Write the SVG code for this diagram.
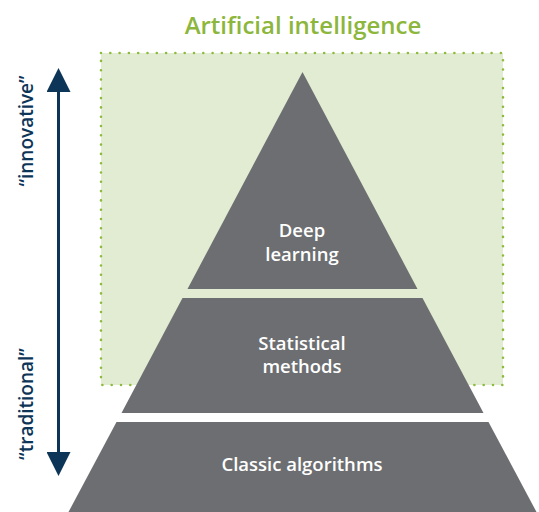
<svg xmlns="http://www.w3.org/2000/svg" width="539" height="512" viewBox="0 0 539 512">
<defs>
<style>
.lbl{font-family:"Open Sans","Noto Sans",sans-serif;font-weight:600;font-size:18.5px;fill:#ffffff;text-anchor:middle}
.tier{fill:#6d6e71}
.side{font-family:"Open Sans","Noto Sans",sans-serif;font-weight:600;font-size:19px;fill:#0d3557;text-anchor:middle}
</style>
<marker id="ah" markerWidth="8.5" markerHeight="8" refX="0" refY="4" orient="auto" markerUnits="strokeWidth">
<path d="M0,0 L8,4 L0,8 Z" fill="#0d3557"/>
</marker>
</defs>
<rect width="539" height="512" fill="#ffffff"/>
<g id="ai-region">
<rect x="101" y="53" width="402" height="332" fill="#e2ecd3" stroke="#8dbb3c" stroke-width="2.6" stroke-dasharray="0 9.3" stroke-linecap="round"/>
<text x="303" y="34" font-family="Open Sans, Noto Sans, sans-serif" font-weight="600" font-size="24" fill="#8cb63c" text-anchor="middle">Artificial intelligence</text>
</g>
<g id="deep-learning">
<polygon class="tier" points="302.5,72 417.5,289 187.5,289"/>
<text class="lbl" x="302" y="237">Deep</text>
<text class="lbl" x="302" y="261">learning</text>
</g>
<g id="statistical-methods">
<polygon class="tier" points="182.5,298 422.5,298 483.5,413 121.5,413"/>
<text class="lbl" x="302" y="350">Statistical</text>
<text class="lbl" x="302" y="373">methods</text>
</g>
<g id="classic-algorithms">
<polygon class="tier" points="116.5,422 488.5,422 536.5,512 68.5,512"/>
<text class="lbl" x="302" y="471">Classic algorithms</text>
</g>
<g id="connectors">
<line x1="58.5" y1="270" x2="58.5" y2="92" stroke="#0d3557" stroke-width="3" marker-end="url(#ah)"/>
<line x1="58.5" y1="270" x2="58.5" y2="452" stroke="#0d3557" stroke-width="3" marker-end="url(#ah)"/>
</g>
<g id="labels">
<text class="side" transform="translate(33,131) rotate(-90)">“innovative”</text>
<text class="side" transform="translate(33,404) rotate(-90)">“traditional”</text>
</g>
</svg>
